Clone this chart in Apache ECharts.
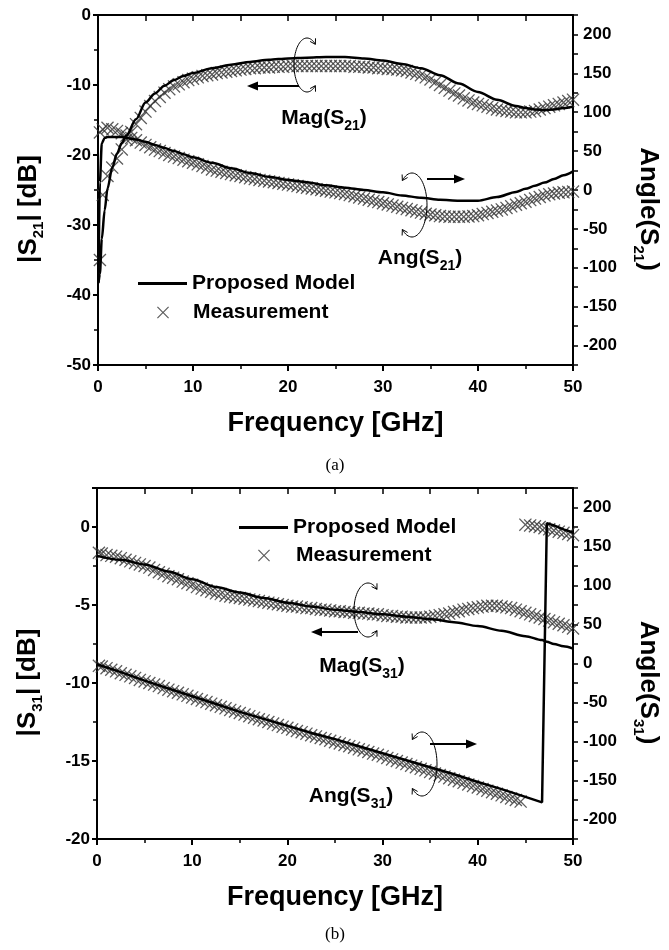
<!DOCTYPE html>
<html>
<head>
<meta charset="utf-8">
<title>S21 / S31 model vs measurement</title>
<script src="https://cdn.jsdelivr.net/npm/echarts@6/dist/echarts.min.js"></script>
<style>
    html, body { margin: 0; padding: 0; background: #fff; }
    #main { width: 669px; height: 950px; }
</style>
</head>
<body>
<div id="main"></div>
<script>
// ---- (a) proposed model, S21 ----
var fModelA = [0.05, 0.2, 0.4, 0.7, 1, 1.5, 2, 2.5, 3, 4, 5, 6, 7, 8, 9, 10, 12, 14, 16, 18, 20,
    22, 24, 26, 28, 30, 32, 34, 36, 38, 40, 42, 44, 45, 46, 47, 48, 49, 50];
var modelMagA = [-38.3, -37.0, -32, -27.9, -24.8, -21.8, -19.8, -18.3, -17.2, -14.9, -12.5, -11.2, -10.1,
    -9.3, -8.7, -8.3, -7.6, -7.1, -6.7, -6.4, -6.2, -6.1, -6.0, -6.0, -6.2, -6.5, -7.0, -7.6, -8.6, -9.8,
    -11.0, -12.1, -13.0, -13.3, -13.5, -13.6, -13.5, -13.3, -13.1];
var modelAngA = [-118, 10, 60, 67, 68, 68, 68, 68, 67, 65, 62, 58, 54, 50, 46, 42, 35, 28, 22, 17, 13,
    10, 6, 3, 0, -3, -7, -10, -12.5, -13.7, -13.8, -9, -2.5, 1.5, 5.5, 9.5, 14, 19, 24];

// ---- (b) proposed model, S31 ----
var fModelB = [0, 2.5, 5, 7.5, 10, 12.5, 15, 17.5, 20, 22.5, 25, 27.5, 30, 32.5, 35, 37.5, 40, 42.5, 45,
    46.75, 47.25, 48, 49, 50];
var modelMagB = [-1.85, -2.1, -2.4, -2.85, -3.35, -3.85, -4.2, -4.55, -4.85, -5.1, -5.3, -5.45, -5.6,
    -5.75, -5.9, -6.1, -6.35, -6.65, -7.0, -7.25, -7.35, -7.5, -7.65, -7.8];
var modelAngB = [-1, -11, -22, -32, -42, -52, -62, -71, -80, -89, -97, -106, -115, -124, -133, -142,
    -152, -161, -171, -178, 180, 177, 172, 168];

// ---- measurement sweep (GHz) ----
var fMeas = [0.2, 0.5, 1, 1.5, 2, 2.5, 3, 3.5, 4, 4.5, 5,
    5.5, 6, 6.5, 7, 7.5, 8, 8.5, 9, 9.5, 10,
    10.5, 11, 11.5, 12, 12.5, 13, 13.5, 14, 14.5, 15,
    15.5, 16, 16.5, 17, 17.5, 18, 18.5, 19, 19.5, 20,
    20.5, 21, 21.5, 22, 22.5, 23, 23.5, 24, 24.5, 25,
    25.5, 26, 26.5, 27, 27.5, 28, 28.5, 29, 29.5, 30,
    30.5, 31, 31.5, 32, 32.5, 33, 33.5, 34, 34.5, 35,
    35.5, 36, 36.5, 37, 37.5, 38, 38.5, 39, 39.5, 40,
    40.5, 41, 41.5, 42, 42.5, 43, 43.5, 44, 44.5, 45,
    45.5, 46, 46.5, 47, 47.5, 48, 48.5, 49, 49.5, 50];
var measMagA = [-35, -25.7, -23.0, -21.8, -20.5, -19.2, -17.8, -16.7, -15.6, -14.7, -13.8,
    -13.0, -12.3, -11.7, -11.1, -10.6, -10.2, -9.9, -9.6, -9.3, -9.1,
    -8.9, -8.7, -8.6, -8.5, -8.3, -8.2, -8.1, -8.0, -7.9, -7.8,
    -7.7, -7.6, -7.6, -7.5, -7.5, -7.5, -7.4, -7.4, -7.4, -7.3,
    -7.3, -7.3, -7.3, -7.3, -7.3, -7.3, -7.3, -7.3, -7.3, -7.3,
    -7.3, -7.3, -7.3, -7.4, -7.4, -7.4, -7.5, -7.5, -7.6, -7.6,
    -7.7, -7.7, -7.8, -7.9, -8.0, -8.2, -8.4, -8.6, -8.9, -9.2,
    -9.6, -10.0, -10.4, -10.8, -11.2, -11.5, -11.9, -12.2, -12.5, -12.7,
    -12.9, -13.1, -13.3, -13.5, -13.6, -13.7, -13.8, -13.9, -13.9, -13.9,
    -13.8, -13.7, -13.5, -13.3, -13.1, -12.9, -12.7, -12.5, -12.3, -12.1];
var measAngA = [74, 78, 80, 78, 76, 73, 70, 67, 64, 61, 58,
    55, 52, 50, 47.5, 45, 43, 41, 39, 37, 35,
    33, 31, 29, 26.5, 25, 23.5, 22, 20.5, 19, 18,
    16.5, 15, 14, 13, 12, 11, 10, 9, 8, 7,
    6, 5, 4, 3, 2, 1, 0, -1, -2, -3,
    -4, -5, -6.5, -8, -9.5, -11, -12.5, -14, -15.5, -17,
    -18.5, -20, -21.5, -23, -24.5, -26, -27.5, -29, -30.5, -31.5,
    -32.5, -33.5, -34, -34.5, -34.5, -34.5, -34.5, -34, -33.5, -32.5,
    -31, -29.5, -28, -26.5, -25, -23, -21, -19, -17, -15,
    -13, -11, -9, -7, -5.5, -4.5, -3.5, -3, -2.5, -2];
var measMagB = [-1.65, -1.7, -1.8, -1.85, -1.9, -2.0, -2.1, -2.2, -2.3, -2.4, -2.5,
    -2.6, -2.75, -2.9, -3.0, -3.15, -3.25, -3.35, -3.5, -3.6, -3.7,
    -3.85, -3.95, -4.05, -4.15, -4.25, -4.3, -4.4, -4.45, -4.5, -4.55,
    -4.6, -4.65, -4.7, -4.75, -4.8, -4.85, -4.9, -4.95, -5.0, -5.05,
    -5.1, -5.1, -5.15, -5.2, -5.2, -5.25, -5.3, -5.3, -5.35, -5.4,
    -5.4, -5.45, -5.45, -5.5, -5.5, -5.55, -5.55, -5.6, -5.6, -5.65,
    -5.7, -5.7, -5.75, -5.75, -5.8, -5.8, -5.8, -5.8, -5.8, -5.75,
    -5.7, -5.65, -5.6, -5.55, -5.45, -5.4, -5.3, -5.25, -5.2, -5.15,
    -5.1, -5.05, -5.05, -5.05, -5.1, -5.15, -5.2, -5.3, -5.4, -5.5,
    -5.6, -5.7, -5.8, -5.9, -6.0, -6.1, -6.2, -6.3, -6.4, -6.5];
var measAngB = [-3, -4, -6, -8, -10, -12.5, -14.5, -16.5, -18.5, -21, -23,
    -25, -27, -29, -31.5, -33.5, -35.5, -37.5, -39.5, -41.5, -43.5,
    -45.5, -47.5, -49.5, -51.5, -53.5, -55.5, -57.5, -59.5, -61.5, -63.5,
    -65.5, -67.5, -69.5, -71.5, -73, -75, -77, -79, -81, -82.5,
    -84.5, -86.5, -88, -90, -92, -93.5, -95.5, -97, -99, -101,
    -102.5, -104.5, -106, -108, -110, -111.5, -113.5, -115.5, -117, -119,
    -121, -123, -125, -127, -129, -131, -133, -135, -137, -139,
    -141, -143, -145, -147, -149, -151, -153, -155, -157, -159,
    -161, -163, -165, -167, -169, -171, -173, -175, -177, 178,
    177, 176, 175, 173.5, 172, 170.5, 169, 167.5, 166, 164.5];

var FONT = '"Liberation Sans", Arial, sans-serif';
var crossPath = 'path://M0,0.7L0.7,0L5,4.3L9.3,0L10,0.7L5.7,5L10,9.3L9.3,10L5,5.7L0.7,10L0,9.3L4.3,5Z';

function pairs(xs, ys) {
    return xs.map(function (x, i) { return [x, ys[i]]; });
}

var axisLineStyle = { color: '#000', width: 2 };
var labelStyle = { color: '#000', fontSize: 17, fontWeight: 'bold', fontFamily: FONT };
var subStyle = { fontSize: 15, fontWeight: 'bold', fontFamily: FONT, padding: [19, 0, 0, 0] };

function bottomAxis(g) {
    return {
        type: 'value', gridIndex: g, position: 'bottom', min: 0, max: 50, interval: 10,
        axisLine: { onZero: false, lineStyle: axisLineStyle },
        axisTick: { inside: false, length: 6, lineStyle: axisLineStyle },
        minorTick: { show: true, splitNumber: 2, length: 4, lineStyle: { color: '#000', width: 1.5 } },
        splitLine: { show: false },
        axisLabel: Object.assign({ margin: 14 }, labelStyle),
        name: 'Frequency [GHz]', nameLocation: 'middle', nameGap: 45,
        nameTextStyle: { color: '#000', fontSize: 27, fontWeight: 'bold', fontFamily: FONT }
    };
}

function topAxis(g) {
    return {
        type: 'value', gridIndex: g, position: 'top', min: 0, max: 50, interval: 5,
        axisLine: { onZero: false, lineStyle: axisLineStyle },
        axisTick: { inside: true, length: 6, lineStyle: { color: '#000', width: 1.5 } },
        axisLabel: { show: false },
        splitLine: { show: false }
    };
}

function leftAxis(g, min, max, interval, name) {
    return {
        type: 'value', gridIndex: g, position: 'left', min: min, max: max, interval: interval,
        axisLine: { onZero: false, lineStyle: axisLineStyle },
        axisTick: { inside: false, length: 5, lineStyle: axisLineStyle },
        minorTick: { show: true, splitNumber: 2, length: 4, lineStyle: { color: '#000', width: 1.5 } },
        splitLine: { show: false },
        axisLabel: Object.assign({
            margin: 7,
            formatter: function (v) { return v % interval === 0 ? v : ''; }
        }, labelStyle),
        name: name, nameLocation: 'middle', nameRotate: 90, nameGap: 52,
        nameTextStyle: {
            color: '#000', fontSize: 26, fontWeight: 'bold', fontFamily: FONT,
            padding: [0, 38, 0, 0], rich: { s: subStyle }
        }
    };
}

function rightAxis(g, name) {
    return {
        type: 'value', gridIndex: g, position: 'right', min: -225, max: 225, interval: 25,
        axisLine: { onZero: false, lineStyle: axisLineStyle },
        axisTick: { inside: false, length: 5, lineStyle: { color: '#000', width: 1.5 } },
        splitLine: { show: false },
        axisLabel: Object.assign({
            margin: 10,
            formatter: function (v) { return v % 50 === 0 ? v : ''; }
        }, labelStyle),
        name: name, nameLocation: 'middle', nameRotate: -90, nameGap: 58,
        nameTextStyle: {
            color: '#000', fontSize: 26, fontWeight: 'bold', fontFamily: FONT,
            padding: [0, 0, 0, 38], rich: { s: subStyle }
        }
    };
}

function modelSeries(xi, yi, xs, ys, smooth) {
    return {
        name: 'Proposed Model', type: 'line', xAxisIndex: xi, yAxisIndex: yi,
        data: pairs(xs, ys), symbol: 'none', smooth: smooth, smoothMonotone: 'x',
        lineStyle: { color: '#000', width: 2.5 }, itemStyle: { color: '#000' }, z: 3
    };
}

function measSeries(xi, yi, ys) {
    return {
        name: 'Measurement', type: 'scatter', xAxisIndex: xi, yAxisIndex: yi,
        data: pairs(fMeas, ys), symbol: crossPath, symbolSize: 13,
        itemStyle: { color: '#333' }, z: 2
    };
}

function legendPair(lineLeft, lineTop, crossLeft, crossTop, crossPad) {
    var txt = { color: '#000', fontSize: 21, fontWeight: 'bold', fontFamily: FONT };
    return [{
        left: lineLeft, top: lineTop, itemWidth: 49, itemHeight: 3, selectedMode: false,
        data: [{ name: 'Proposed Model', icon: 'rect', itemStyle: { color: '#000' } }],
        textStyle: txt
    }, {
        left: crossLeft, top: crossTop, itemWidth: 12, itemHeight: 12, selectedMode: false,
        data: [{ name: 'Measurement', icon: crossPath, itemStyle: { color: '#333' } }],
        textStyle: Object.assign({ padding: [0, 0, 0, crossPad] }, txt)
    }];
}

// ---- annotations: curled arrows + labels ----
function curl(cx, cy, rx, ry, openRight) {
    var a0 = openRight ? 50 : -130, a1 = openRight ? 310 : 130;
    var pts = [];
    for (var a = a0; a <= a1; a += 5) {
        var t = a * Math.PI / 180;
        pts.push([cx + rx * Math.cos(t), cy + ry * Math.sin(t)]);
    }
    var els = [{ type: 'polyline', shape: { points: pts }, style: { stroke: '#000', lineWidth: 1, fill: 'none' }, z: 10 }];
    [[a0, -1], [a1, 1]].forEach(function (e) {
        var t = e[0] * Math.PI / 180;
        var px = cx + rx * Math.cos(t), py = cy + ry * Math.sin(t);
        var dx = -rx * Math.sin(t) * e[1], dy = ry * Math.cos(t) * e[1];
        var len = Math.sqrt(dx * dx + dy * dy);
        var bx = -dx / len, by = -dy / len, h = 6, phi = 0.55;
        var p1 = [px + h * (bx * Math.cos(phi) - by * Math.sin(phi)), py + h * (bx * Math.sin(phi) + by * Math.cos(phi))];
        var p2 = [px + h * (bx * Math.cos(-phi) - by * Math.sin(-phi)), py + h * (bx * Math.sin(-phi) + by * Math.cos(-phi))];
        els.push({ type: 'polyline', shape: { points: [p1, [px, py], p2] }, style: { stroke: '#000', lineWidth: 1, fill: 'none' }, z: 10 });
    });
    return els;
}

function arrow(x1, x2, y) {
    var dir = x2 > x1 ? 1 : -1;
    return [
        { type: 'line', shape: { x1: x1, y1: y, x2: x2 - dir * 8, y2: y }, style: { stroke: '#000', lineWidth: 2 }, z: 10 },
        { type: 'polygon', shape: { points: [[x2, y], [x2 - dir * 11, y - 4.5], [x2 - dir * 11, y + 4.5]] }, style: { fill: '#000' }, z: 10 }
    ];
}

function label(text, x, y) {
    return {
        type: 'text', x: x, y: y, z: 10,
        style: {
            text: text, fill: '#000', fontSize: 21, fontWeight: 'bold', fontFamily: FONT,
            align: 'center', verticalAlign: 'middle', textAlign: 'center', textVerticalAlign: 'middle',
            rich: { s: { fontSize: 14, fontWeight: 'bold', fontFamily: FONT, padding: [17, 0, 0, 0] } }
        }
    };
}

function caption(text, x, y) {
    return {
        type: 'text', x: x, y: y,
        style: {
            text: text, fill: '#000', fontSize: 17, fontFamily: '"Liberation Serif", serif',
            align: 'center', verticalAlign: 'middle', textAlign: 'center', textVerticalAlign: 'middle'
        }
    };
}

var graphics = [].concat(
    curl(307, 65, 13, 27, true), arrow(299, 247, 86), [label('Mag(S{s|21})', 324, 118)],
    curl(412, 205, 15, 32, false), arrow(427, 465, 179), [label('Ang(S{s|21})', 420, 258)],
    curl(368, 610, 14, 27, true), arrow(358, 311, 632), [label('Mag(S{s|31})', 362, 666)],
    curl(422, 764, 15, 32, false), arrow(430, 477, 744), [label('Ang(S{s|31})', 351, 796)],
    [caption('(a)', 335, 466), caption('(b)', 335, 935)]
);

var chart = echarts.init(document.getElementById('main'), null, { renderer: 'canvas' });
var option = {
    backgroundColor: '#fff',
    animation: false,
    textStyle: { fontFamily: FONT },
    grid: [
        { left: 98, right: 95, top: 15, bottom: 585 },
        { left: 97, right: 96, top: 488, bottom: 111 }
    ],
    xAxis: [bottomAxis(0), topAxis(0), bottomAxis(1), topAxis(1)],
    yAxis: [
        leftAxis(0, -50, 0, 10, '|S{s|21}| [dB]'),
        rightAxis(0, 'Angle(S{s|21})'),
        leftAxis(1, -20, 2.5, 5, '|S{s|31}| [dB]'),
        rightAxis(1, 'Angle(S{s|31})')
    ],
    legend: [].concat(legendPair(133, 268, 152, 297, 19), legendPair(234, 512, 253, 540, 21)),
    series: [
        measSeries(0, 0, measMagA),
        measSeries(0, 1, measAngA),
        modelSeries(0, 0, fModelA, modelMagA, 0.3),
        modelSeries(0, 1, fModelA, modelAngA, 0.3),
        measSeries(2, 2, measMagB),
        measSeries(2, 3, measAngB),
        modelSeries(2, 2, fModelB, modelMagB, 0.3),
        modelSeries(2, 3, fModelB, modelAngB, false)
    ],
    graphic: graphics
};
chart.setOption(option);
</script>
</body>
</html>
